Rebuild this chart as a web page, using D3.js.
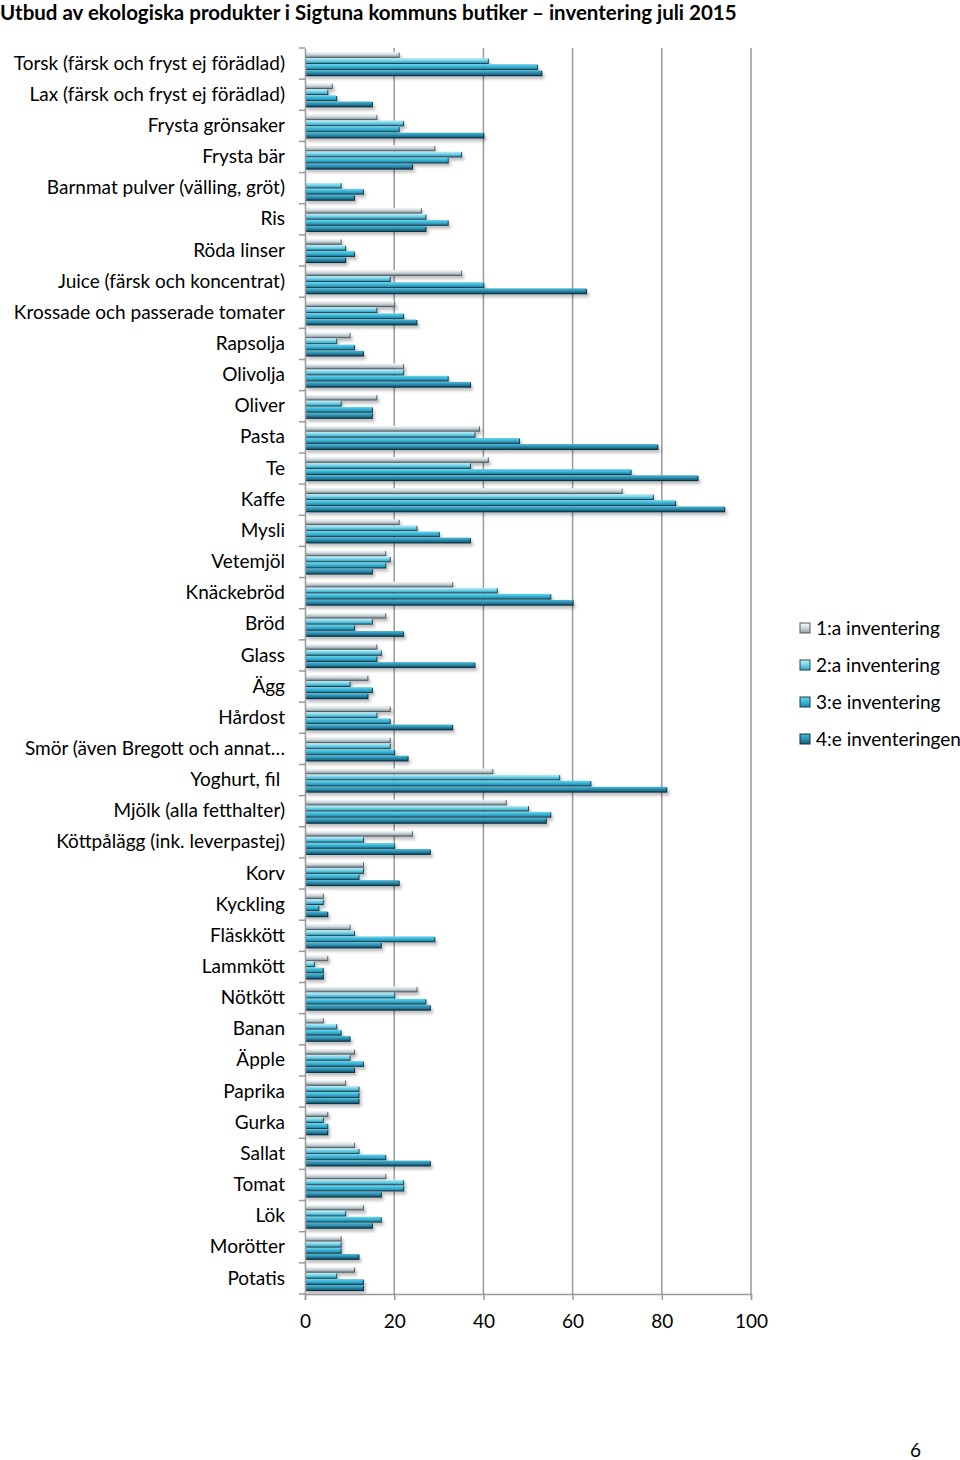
<!DOCTYPE html>
<html><head><meta charset="utf-8">
<script src="https://cdn.jsdelivr.net/npm/d3@7"></script>
<style>body{margin:0;background:#fff}svg{display:block}</style>
</head><body>
<script>
const categories = ["Torsk (färsk och fryst ej förädlad)","Lax (färsk och fryst ej förädlad)","Frysta grönsaker","Frysta bär","Barnmat pulver (välling, gröt)","Ris","Röda linser","Juice (färsk och koncentrat)","Krossade och passerade tomater","Rapsolja","Olivolja","Oliver","Pasta","Te","Kaffe","Mysli","Vetemjöl","Knäckebröd","Bröd","Glass","Ägg","Hårdost","Smör (även Bregott och annat…","Yoghurt, fil ","Mjölk (alla fetthalter)","Köttpålägg (ink. leverpastej)","Korv","Kyckling","Fläskkött","Lammkött","Nötkött","Banan","Äpple","Paprika","Gurka","Sallat","Tomat","Lök","Morötter","Potatis"];
const seriesNames = ["1:a inventering","2:a inventering","3:e inventering","4:e inventeringen"];
const inv1 = [21,6,16,29,0,26,8,35,20,10,22,16,39,41,71,21,18,33,18,16,14,19,19,42,45,24,13,4,10,5,25,4,11,9,5,11,18,13,8,11];
const inv2 = [41,5,22,35,8,27,9,19,16,7,22,8,38,37,78,25,19,43,15,17,10,16,19,57,50,13,13,4,11,2,20,7,10,12,4,12,22,9,8,7];
const inv3 = [52,7,21,32,13,32,11,40,22,11,32,15,48,73,83,30,18,55,11,16,15,19,20,64,55,20,12,3,29,4,27,8,13,12,5,18,22,17,8,13];
const inv4 = [53,15,40,24,11,27,9,63,25,13,37,15,79,88,94,37,15,60,22,38,14,33,23,81,54,28,21,5,17,4,28,10,11,12,5,28,17,15,12,13];
const xTicks = [0,20,40,60,80,100];
const values = [inv1,inv2,inv3,inv4];

const W=960,H=1460;
const svg=d3.select("body").append("svg").attr("width",W).attr("height",H);
const font="Lato, 'Open Sans', sans-serif";

const defs=svg.append("defs");
const grads=[["#f6fafb","#cfd9dd","#8e9ea6"],["#c2f0f8","#76d3e8","#34a0be"],["#68d5ee","#3bb4d6","#2286a6"],["#4cb8d6","#2c90b2","#175b73"]];
grads.forEach((g,i)=>{
  const lg=defs.append("linearGradient").attr("id","g"+i).attr("x1",0).attr("y1",0).attr("x2",0).attr("y2",1);
  lg.append("stop").attr("offset","0%").attr("stop-color",g[0]);
  lg.append("stop").attr("offset","50%").attr("stop-color",g[1]);
  lg.append("stop").attr("offset","100%").attr("stop-color",g[2]);
});
const edge=["#555f64","#1f4a58","#173f4e","#0f3040"];
const f=defs.append("filter").attr("id","sh").attr("x","-10%").attr("y","-50%").attr("width","130%").attr("height","300%");
f.append("feGaussianBlur").attr("in","SourceAlpha").attr("stdDeviation",1.5).attr("result","b");
f.append("feOffset").attr("in","b").attr("dx",2).attr("dy",3).attr("result","o");
f.append("feComponentTransfer").attr("in","o").attr("result","o2").append("feFuncA").attr("type","linear").attr("slope",0.25);
const fm=f.append("feMerge");fm.append("feMergeNode").attr("in","o2");fm.append("feMergeNode").attr("in","SourceGraphic");

const x=d3.scaleLinear().domain([0,100]).range([305,751]);
const y=d3.scaleBand().domain(categories).range([48,1294]).paddingInner(0.26).paddingOuter(0.13);
const ys=d3.scaleBand().domain(d3.range(4)).range([0,y.bandwidth()]).paddingInner(0.22);

// title
svg.append("text").attr("x",0).attr("y",20).attr("font-family",font).attr("font-weight","bold").attr("font-size",20.5).attr("fill","#000")
  .text("Utbud av ekologiska produkter i Sigtuna kommuns butiker – inventering juli 2015");

// gridlines
svg.append("g").selectAll("line").data(xTicks.slice(1)).join("line")
  .attr("x1",d=>x(d)).attr("x2",d=>x(d)).attr("y1",48).attr("y2",1294)
  .attr("stroke","#999").attr("stroke-width",1.5);

// bars
const gb=svg.append("g").attr("filter","url(#sh)");
categories.forEach((c,ci)=>{
  values.forEach((arr,si)=>{
    const v=arr[ci]; if(!v) return;
    const yy=y(c)+ys(si), h=ys.bandwidth(), w=x(v)-x(0);
    gb.append("rect").attr("x",x(0)).attr("y",yy+0.5).attr("width",w+1).attr("height",h+0.6).attr("fill",edge[si]);
    gb.append("rect").attr("x",x(0)).attr("y",yy).attr("width",w).attr("height",h).attr("fill","url(#g"+si+")");
  });
});

// y axis
const yAx=d3.axisLeft(y).tickSize(0).tickPadding(20);
const ga=svg.append("g").attr("transform","translate(305,0)").call(yAx);
ga.select(".domain").attr("stroke","#999").attr("stroke-width",1.5);
ga.selectAll("text").attr("font-family",font).attr("font-size",19).attr("fill","#000").style("white-space","pre");
// category boundary ticks
const bounds=categories.map(c=>y(c)-y.step()*y.paddingInner()/2).concat([1294]);
svg.append("g").selectAll("line").data(bounds).join("line")
  .attr("x1",299).attr("x2",305).attr("y1",d=>d).attr("y2",d=>d).attr("stroke","#999").attr("stroke-width",1.5);

// x axis
const xAx=d3.axisBottom(x).tickValues(xTicks).tickSize(6).tickPadding(15);
const gx=svg.append("g").attr("transform","translate(0,1294)").call(xAx);
gx.select(".domain").attr("stroke","#999").attr("stroke-width",1.5);
gx.selectAll(".tick line").attr("stroke","#999").attr("stroke-width",1.5);
gx.selectAll("text").attr("font-family",font).attr("font-size",19).attr("fill","#000");

// legend
const lg=svg.append("g");
seriesNames.forEach((s,i)=>{
  const ly=628+i*37;
  lg.append("rect").attr("x",800).attr("y",ly-5).attr("width",10).attr("height",10).attr("fill","url(#g"+i+")").attr("stroke",edge[i]).attr("stroke-width",1);
  lg.append("text").attr("x",816).attr("y",ly).attr("dy","0.35em").attr("font-family",font).attr("font-size",19).attr("fill","#000").text(s);
});

// page number
svg.append("text").attr("x",921).attr("y",1457).attr("text-anchor","end").attr("font-family",font).attr("font-size",19).attr("fill","#000").text("6");
</script>
</body></html>
